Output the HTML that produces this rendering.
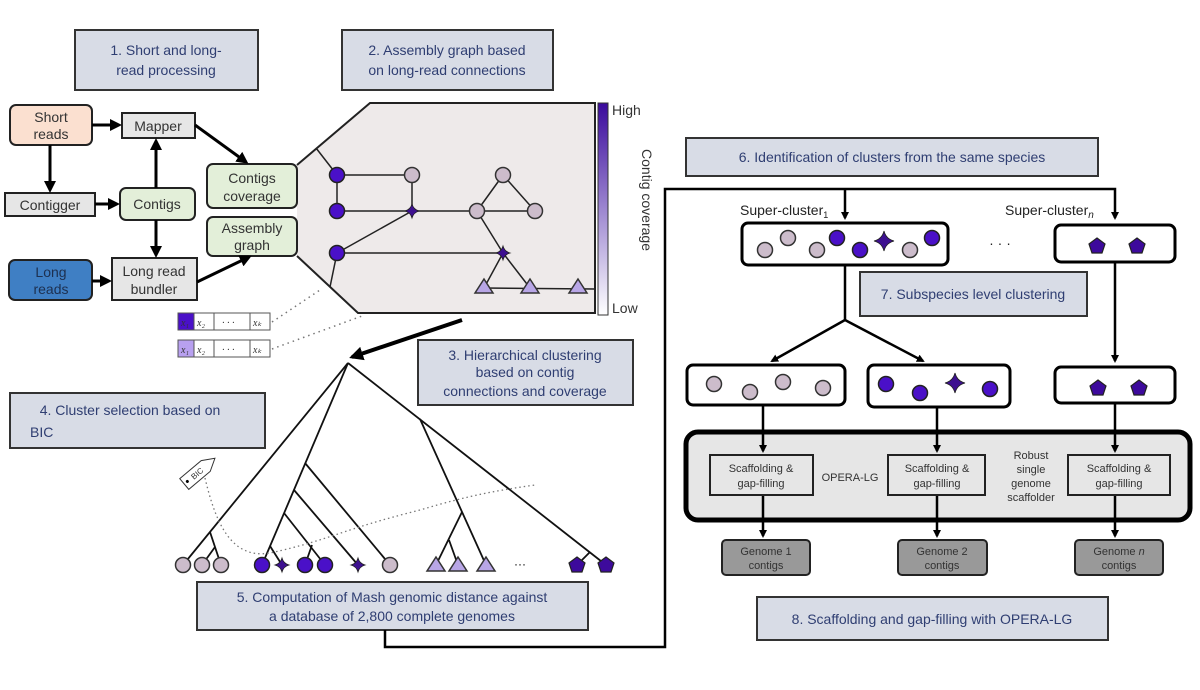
<!DOCTYPE html>
<html><head><meta charset="utf-8"><style>
html,body{margin:0;padding:0;background:#fff}
svg{display:block;font-family:"Liberation Sans",Arial,sans-serif}
</style></head><body>
<svg width="1200" height="690" viewBox="0 0 1200 690" xmlns="http://www.w3.org/2000/svg">
<defs>
<marker id="ah" markerWidth="8" markerHeight="8" refX="6" refY="4" orient="auto" markerUnits="userSpaceOnUse"><path d="M0,0 L8,4 L0,8 z" fill="#000"/></marker>
<marker id="ahm" markerWidth="12" markerHeight="12" refX="9" refY="6" orient="auto" markerUnits="userSpaceOnUse"><path d="M0,0 L12,6 L0,12 z" fill="#000"/></marker>
<marker id="ahb" markerWidth="14" markerHeight="14" refX="11" refY="7" orient="auto" markerUnits="userSpaceOnUse"><path d="M0,0 L14,7 L0,14 z" fill="#000"/></marker>
<linearGradient id="cg" x1="0" y1="0" x2="0" y2="1"><stop offset="0" stop-color="#3a0a9c"/><stop offset="0.5" stop-color="#9c86d0"/><stop offset="1" stop-color="#fff"/></linearGradient>
<g id="dc"><circle r="7.5" fill="#4a10c8" stroke="#222" stroke-width="1.5"/></g>
<g id="lc"><circle r="7.5" fill="#ccbccb" stroke="#333" stroke-width="1.5"/></g>
<g id="st"><path d="M0,-10 Q2,-2 10,0 Q2,2 0,10 Q-2,2 -10,0 Q-2,-2 0,-10z" fill="#3d1090" stroke="#222" stroke-width="0.8"/></g>
<g id="sst"><path d="M0,-7 Q1.5,-1.5 7,0 Q1.5,1.5 0,7 Q-1.5,1.5 -7,0 Q-1.5,-1.5 0,-7z" fill="#3d1090" stroke="#222" stroke-width="0.8"/></g>
<g id="tr"><path d="M0,-8 L9,6 L-9,6z" fill="#b8a6e6" stroke="#333" stroke-width="1.5"/></g>
<g id="pg"><path d="M0,-8 L8,-2 L5,7 L-5,7 L-8,-2z" fill="#3d0a9c" stroke="#222" stroke-width="1.2"/></g>
</defs>
<g fill="#d8dce6" stroke="#333" stroke-width="2">
<rect x="75" y="30" width="183" height="60"/>
<rect x="342" y="30" width="211" height="60"/>
<rect x="686" y="138" width="412" height="38"/>
<rect x="860" y="272" width="227" height="44"/>
<rect x="418" y="340" width="215" height="65"/>
<rect x="10" y="393" width="255" height="55"/>
<rect x="197" y="582" width="391" height="48"/>
<rect x="757" y="597" width="351" height="43"/>
</g>
<g fill="#2f3e72" font-size="14" text-anchor="middle">
<text x="166" y="55">1. Short and long-</text><text x="166" y="75">read processing</text>
<text x="447" y="55">2. Assembly graph based</text><text x="447" y="75">on long-read connections</text>
<text x="892" y="162">6. Identification of clusters from the same species</text>
<text x="973" y="299">7. Subspecies level clustering</text>
<text x="525" y="360">3. Hierarchical clustering</text><text x="525" y="377">based on contig</text><text x="525" y="396">connections and coverage</text>
<text x="130" y="415">4. Cluster selection based on</text><text x="30" y="437" text-anchor="start">BIC</text>
<text x="392" y="602">5. Computation of Mash genomic distance against</text><text x="392" y="621">a database of 2,800 complete genomes</text>
<text x="932" y="624">8. Scaffolding and gap-filling with OPERA-LG</text>
</g>
<!-- graph panel -->
<polygon points="370,103 595,103 595,313 358,313 297,256 297,165" fill="#eeeaea" stroke="none"/>
<polyline points="297,165 370,103 595,103 595,313 358,313 297,256" fill="none" stroke="#222" stroke-width="2"/>
<!-- left flow -->
<g stroke="#222" stroke-width="2">
<rect x="10" y="105" width="82" height="40" rx="6" fill="#fbe0d0"/>
<rect x="122" y="113" width="73" height="25" fill="#e6e6e6"/>
<rect x="5" y="193" width="90" height="23" fill="#e6e6e6"/>
<rect x="120" y="188" width="75" height="32" rx="6" fill="#e3efd9"/>
<rect x="207" y="164" width="90" height="44" rx="6" fill="#e3efd9"/>
<rect x="207" y="217" width="90" height="39" rx="6" fill="#e3efd9"/>
<rect x="9" y="260" width="83" height="40" rx="6" fill="#3f7fc4"/>
<rect x="112" y="258" width="85" height="42" fill="#e6e6e6"/>
</g>
<g font-size="14" fill="#333" text-anchor="middle">
<text x="51" y="122">Short</text><text x="51" y="139">reads</text>
<text x="158" y="131">Mapper</text>
<text x="50" y="210">Contigger</text>
<text x="157" y="209">Contigs</text>
<text x="252" y="183">Contigs</text><text x="252" y="201">coverage</text>
<text x="252" y="233">Assembly</text><text x="252" y="250">graph</text>
<text x="51" y="277" fill="#1d3050">Long</text><text x="51" y="294" fill="#1d3050">reads</text>
<text x="154" y="276">Long read</text><text x="154" y="294">bundler</text>
</g>
<g stroke="#000" stroke-width="3" fill="none" marker-end="url(#ahm)">
<line x1="92" y1="125" x2="119" y2="125"/>
<line x1="50" y1="145" x2="50" y2="190"/>
<line x1="95" y1="204" x2="117" y2="204"/>
<line x1="156" y1="188" x2="156" y2="141"/>
<line x1="156" y1="220" x2="156" y2="255"/>
<line x1="92" y1="281" x2="109" y2="281"/>
<line x1="195" y1="125" x2="246" y2="162"/>
<line x1="197" y1="282" x2="249" y2="257"/>
</g>
<!-- vectors -->
<g stroke="#555" stroke-width="1">
<rect x="178" y="313" width="16" height="17" fill="#4a10c8"/><rect x="194" y="313" width="20" height="17" fill="#fff"/><rect x="214" y="313" width="36" height="17" fill="#fff"/><rect x="250" y="313" width="20" height="17" fill="#fff"/>
<rect x="178" y="340" width="16" height="17" fill="#b8a0f0"/><rect x="194" y="340" width="20" height="17" fill="#fff"/><rect x="214" y="340" width="36" height="17" fill="#fff"/><rect x="250" y="340" width="20" height="17" fill="#fff"/>
</g>
<g font-size="10" font-style="italic" fill="#333" font-family="Liberation Serif">
<text x="181" y="326">x₁</text><text x="197" y="326">x₂</text><text x="222" y="326">· · ·</text><text x="253" y="326">xₖ</text>
<text x="181" y="353">x₁</text><text x="197" y="353">x₂</text><text x="222" y="353">· · ·</text><text x="253" y="353">xₖ</text>
</g>
<g stroke="#777" stroke-width="1.5" stroke-dasharray="1.5,4" fill="none">
<line x1="272" y1="322" x2="320" y2="290"/><line x1="272" y1="349" x2="362" y2="316"/>
</g>
<g stroke="#222" stroke-width="1.5" fill="none">
<line x1="337" y1="175" x2="412" y2="175"/><line x1="337" y1="175" x2="337" y2="211"/><line x1="412" y1="175" x2="412" y2="211"/>
<line x1="337" y1="211" x2="535" y2="211"/><line x1="477" y1="211" x2="503" y2="175"/><line x1="503" y1="175" x2="535" y2="211"/>
<line x1="337" y1="253" x2="412" y2="211"/><line x1="337" y1="253" x2="503" y2="253"/><line x1="477" y1="211" x2="503" y2="253"/>
<line x1="503" y1="253" x2="484" y2="288"/><line x1="503" y1="253" x2="530" y2="288"/><line x1="484" y1="288" x2="595" y2="289"/>
<line x1="337" y1="175" x2="316" y2="148"/><line x1="337" y1="253" x2="330" y2="287"/>
</g>
<use href="#dc" x="337" y="175"/><use href="#lc" x="412" y="175"/><use href="#dc" x="337" y="211"/><use href="#sst" x="412" y="211"/>
<use href="#lc" x="477" y="211"/><use href="#lc" x="503" y="175"/><use href="#lc" x="535" y="211"/><use href="#dc" x="337" y="253"/><use href="#sst" x="503" y="253"/>
<use href="#tr" x="484" y="287"/><use href="#tr" x="530" y="287"/><use href="#tr" x="578" y="287"/>
<rect x="598" y="103" width="10" height="212" fill="url(#cg)" stroke="#333" stroke-width="1"/>
<text x="612" y="115" font-size="14" fill="#333">High</text>
<text x="612" y="313" font-size="14" fill="#333">Low</text>
<text x="0" y="0" font-size="14" fill="#333" text-anchor="middle" transform="translate(642,200) rotate(90)">Contig coverage</text>
<line x1="462" y1="320" x2="352" y2="357" stroke="#000" stroke-width="4" marker-end="url(#ahb)"/>
<!-- tree -->
<g stroke="#111" stroke-width="1.8" fill="none">
<line x1="348" y1="363" x2="183" y2="565"/><line x1="210" y1="532" x2="221" y2="565"/><line x1="215" y1="547" x2="202" y2="565"/>
<line x1="348" y1="363" x2="262" y2="565"/><line x1="305" y1="463" x2="390" y2="565"/><line x1="294" y1="490" x2="358" y2="565"/>
<line x1="284" y1="513" x2="325" y2="565"/><line x1="312" y1="545" x2="305" y2="565"/><line x1="270" y1="546" x2="282" y2="565"/>
<line x1="348" y1="363" x2="606" y2="565"/><line x1="590" y1="552" x2="577" y2="565"/>
<line x1="420" y1="419" x2="486" y2="565"/><line x1="462" y1="512" x2="436" y2="565"/><line x1="449" y1="540" x2="458" y2="565"/>
</g>
<use href="#lc" x="183" y="565"/><use href="#lc" x="202" y="565"/><use href="#lc" x="221" y="565"/>
<use href="#dc" x="262" y="565"/><use href="#sst" x="282" y="565"/><use href="#dc" x="305" y="565"/><use href="#dc" x="325" y="565"/><use href="#sst" x="358" y="565"/><use href="#lc" x="390" y="565"/>
<use href="#tr" x="436" y="565"/><use href="#tr" x="458" y="565"/><use href="#tr" x="486" y="565"/>
<text x="520" y="568" font-size="12" text-anchor="middle">···</text>
<use href="#pg" x="577" y="565"/><use href="#pg" x="606" y="565"/>
<path d="M205,478 C215,520 230,560 270,553 C330,540 340,530 420,510 C470,495 500,490 535,485" stroke="#777" stroke-width="1.3" stroke-dasharray="1.5,3" fill="none"/>
<g transform="translate(195,475) rotate(-40)"><path d="M-14,-7 L14,-7 L26,0 L14,7 L-14,7z" fill="#fff" stroke="#333" stroke-width="1"/><circle cx="-10" cy="0" r="1.5" fill="#000"/><text x="-4" y="3" font-size="8" fill="#333">BIC</text></g>
<!-- right side -->
<g stroke="#000" stroke-width="2.5" fill="none">
<polyline points="385,630 385,647 665,647 665,189 1115,189 1115,218" marker-end="url(#ah)"/>
<line x1="845" y1="189" x2="845" y2="218" marker-end="url(#ah)"/>
<line x1="845" y1="265" x2="845" y2="320"/>
<line x1="845" y1="320" x2="772" y2="361" marker-end="url(#ah)"/>
<line x1="845" y1="320" x2="923" y2="361" marker-end="url(#ah)"/>
<line x1="1115" y1="262" x2="1115" y2="361" marker-end="url(#ah)"/>
</g>
<text x="740" y="215" font-size="14" fill="#222">Super-cluster<tspan font-size="9" dy="3">1</tspan></text>
<text x="1005" y="215" font-size="14" fill="#222">Super-cluster<tspan font-size="10" dy="3" font-style="italic">n</tspan></text>
<text x="1000" y="248" font-size="14" fill="#222" text-anchor="middle">· · ·</text>
<g fill="#fff" stroke="#000" stroke-width="3">
<rect x="742" y="223" width="206" height="42" rx="6"/>
<rect x="1055" y="225" width="120" height="37" rx="6"/>
<rect x="687" y="365" width="158" height="40" rx="6"/>
<rect x="868" y="365" width="142" height="42" rx="6"/>
<rect x="1055" y="367" width="120" height="36" rx="6"/>
</g>
<use href="#lc" x="765" y="250"/><use href="#lc" x="788" y="238"/><use href="#lc" x="817" y="250"/><use href="#dc" x="837" y="238"/><use href="#dc" x="860" y="250"/><use href="#st" x="884" y="241"/><use href="#lc" x="910" y="250"/><use href="#dc" x="932" y="238"/>
<use href="#pg" x="1097" y="246"/><use href="#pg" x="1137" y="246"/>
<use href="#lc" x="714" y="384"/><use href="#lc" x="750" y="392"/><use href="#lc" x="783" y="382"/><use href="#lc" x="823" y="388"/>
<use href="#dc" x="886" y="384"/><use href="#dc" x="920" y="393"/><use href="#st" x="955" y="383"/><use href="#dc" x="990" y="389"/>
<use href="#pg" x="1098" y="388"/><use href="#pg" x="1139" y="388"/>
<rect x="686" y="432" width="504" height="88" rx="12" fill="#e6e6e6" stroke="#000" stroke-width="5"/>
<g stroke="#000" stroke-width="2.5" marker-end="url(#ah)">
<line x1="763" y1="405" x2="763" y2="451"/><line x1="937" y1="407" x2="937" y2="451"/><line x1="1115" y1="403" x2="1115" y2="451"/>
<line x1="763" y1="495" x2="763" y2="536"/><line x1="937" y1="495" x2="937" y2="536"/><line x1="1115" y1="495" x2="1115" y2="536"/>
</g>
<g fill="#e6e6e6" stroke="#222" stroke-width="2">
<rect x="710" y="455" width="103" height="40"/><rect x="888" y="455" width="97" height="40"/><rect x="1068" y="455" width="102" height="40"/>
</g>
<g fill="#999" stroke="#222" stroke-width="2">
<rect x="722" y="540" width="88" height="35" rx="4"/><rect x="898" y="540" width="89" height="35" rx="4"/><rect x="1075" y="540" width="88" height="35" rx="4"/>
</g>
<g font-size="11" fill="#333" text-anchor="middle">
<text x="761" y="472">Scaffolding &amp;</text><text x="761" y="487">gap-filling</text>
<text x="937" y="472">Scaffolding &amp;</text><text x="937" y="487">gap-filling</text>
<text x="1119" y="472">Scaffolding &amp;</text><text x="1119" y="487">gap-filling</text>
<text x="850" y="481">OPERA-LG</text>
<text x="1031" y="459">Robust</text><text x="1031" y="473">single</text><text x="1031" y="487">genome</text><text x="1031" y="501">scaffolder</text>
<text x="766" y="555">Genome 1</text><text x="766" y="569">contigs</text>
<text x="942" y="555">Genome 2</text><text x="942" y="569">contigs</text>
<text x="1119" y="555">Genome <tspan font-style="italic">n</tspan></text><text x="1119" y="569">contigs</text>
</g>
</svg>
</body></html>
